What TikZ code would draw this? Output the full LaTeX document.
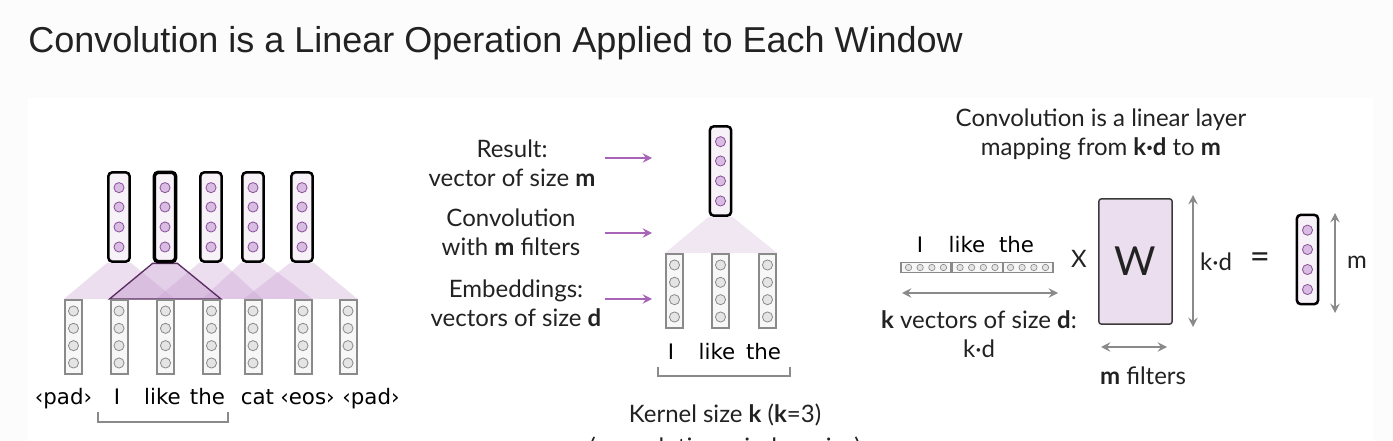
\documentclass[tikz,border=0pt]{standalone}
\usepackage{fontspec}
\setmainfont{Lato}
\newfontfamily\titlefont{Liberation Sans}
\newfontfamily\wordfont{DejaVu Sans}
\usetikzlibrary{arrows.meta,backgrounds}

\definecolor{dotpurple}{HTML}{D8BCE2}
\definecolor{dotedge}{HTML}{8A4F9B}
\definecolor{vecpurple}{HTML}{F7F1F8}
\definecolor{dotgray}{HTML}{E4E4E4}
\definecolor{edgegray}{HTML}{8A8A8A}
\definecolor{vecgray}{HTML}{F7F7F7}
\definecolor{trappurple}{HTML}{C9A0D3}
\definecolor{arrowpurple}{HTML}{A864B8}
\definecolor{wpurple}{HTML}{EBDFEF}
\definecolor{inkblack}{HTML}{222222}

\tikzset{
topvec/.style={draw=black, line width=1.9pt, rounded corners=3pt, fill=vecpurple,
  minimum width=16pt, minimum height=67pt, inner sep=0pt},
botvec/.style={draw=edgegray, line width=1.5pt, fill=vecgray,
  minimum width=12.75pt, minimum height=55.5pt, inner sep=0pt},
pdot/.style={circle, draw=dotedge, line width=0.6pt, fill=dotpurple, minimum size=7.6pt, inner sep=0pt},
gdot/.style={circle, draw=edgegray, line width=0.6pt, fill=dotgray, minimum size=7.6pt, inner sep=0pt},
sdot/.style={circle, draw=edgegray, line width=0.5pt, fill=dotgray, minimum size=4.8pt, inner sep=0pt},
barseg/.style={draw=edgegray, line width=0.8pt, fill=vecgray, minimum width=37.5pt, minimum height=7.5pt, inner sep=0pt},
trap/.style={fill=trappurple, fill opacity=0.35},
word/.style={font=\wordfont\fontsize{16}{19}\selectfont, inner sep=0pt, anchor=base},
label/.style={font=\fontsize{18}{21.75}\selectfont, text=inkblack, align=center, inner sep=0pt},
parrow/.style={draw=arrowpurple, line width=1.5pt, -{Stealth[length=7pt,width=7pt,inset=2.5pt]}},
garrow/.style={draw=edgegray, line width=1.8pt, {Stealth[length=7pt,width=7pt,inset=2.5pt]}-{Stealth[length=7pt,width=7pt,inset=2.5pt]}},
brace/.style={draw=edgegray, line width=1.4pt}
}

\begin{document}
\begin{tikzpicture}[x=0.75pt,y=0.75pt,yscale=-1,xscale=1]
\useasboundingbox (0,0) rectangle (1393,441);

% title
\node[font=\titlefont\fontsize{27}{31}\selectfont, text=inkblack, anchor=base west, inner sep=0pt] (title) at (28,53) {Convolution is a Linear Operation Applied to Each Window};

%% left: convolution over the whole sentence
% embeddings
\node[botvec] (b1) at (73.5,337) {};
\node[botvec] (b2) at (119,337) {};
\node[botvec] (b3) at (165.5,337) {};
\node[botvec] (b4) at (211.5,337) {};
\node[botvec] (b5) at (253,337) {};
\node[botvec] (b6) at (303,337) {};
\node[botvec] (b7) at (348,337) {};
% outputs
\node[topvec] (t1) at (119,217) {};
\node[topvec, line width=2.6pt] (t2) at (165,217) {};
\node[topvec] (t3) at (211,217) {};
\node[topvec] (t4) at (253,217) {};
\node[topvec] (t5) at (302,217) {};

% words
\node[word] (w1) at (63.5,405) {‹pad›};
\node[word] (w2) at (117,405) {I};
\node[word] (w3) at (162.5,405) {like};
\node[word] (w4) at (207.5,405) {the};
\node[word] (w5) at (257.5,405) {cat};
\node[word] (w6) at (307.5,405) {‹eos›};
\node[word] (w7) at (371,405) {‹pad›};
\coordinate (lbr1) at (98,412);
\coordinate (lbr2) at (228,412);
\draw[brace] (lbr1) -- ++(0,10) -| (lbr2);

%% middle: one window
\node[topvec] (m0) at (720.5,171) {};
\node[botvec] (m1) at (674.5,291) {};
\node[botvec] (m2) at (720.5,291) {};
\node[botvec] (m3) at (767.5,291) {};

\node[label] (res) at (512,163.5) {Result:\\vector of size \textbf{m}};
\node[label] (conv) at (511,232.5) {Convolution\\with \textbf{m} filters};
\node[label] (emb) at (516,303) {Embeddings:\\vectors of size \textbf{d}};
\coordinate (a1) at (605,158);
\coordinate (a2) at (605,233);
\coordinate (a3) at (605,299);
\draw[parrow] (a1) -- ++(47,0);
\draw[parrow] (a2) -- ++(47,0);
\draw[parrow] (a3) -- ++(47,0);

\node[word] (mw1) at (671,360) {I};
\node[word] (mw2) at (717,360) {like};
\node[word] (mw3) at (763.5,360) {the};
\coordinate (mbr1) at (658,367);
\coordinate (mbr2) at (790,367);
\draw[brace] (mbr1) -- ++(0,9) -| (mbr2);
\node[label, anchor=north] (kern) at (725,404) {Kernel size \textbf{k} (\textbf{k}=3)\\[3pt](convolution window size)};

%% right: linear layer view
\node[label] (lin) at (1101,134) {Convolution is a linear layer\\mapping from \textbf{k·d} to \textbf{m}};
\node[word] (rw1) at (920,253) {I};
\node[word] (rw2) at (967,253) {like};
\node[word] (rw3) at (1016.5,253) {the};
\node[barseg] (s1) at (926,267.5) {};
\node[barseg] (s2) at (977.5,267.5) {};
\node[barseg] (s3) at (1028,267.5) {};
\coordinate (kl) at (902,293);
\coordinate (kr) at (1058,293);
\draw[garrow] (kl) -- (kr);
\node[label] (kvec) at (979,334) {\textbf{k} vectors of size \textbf{d}:\\k·d};

\node[label] (times) at (1079,259) {X};
\node[draw={rgb,255:red,58;green,58;blue,58}, line width=1.1pt, fill=wpurple, rounded corners=2pt,
  minimum width=55pt, minimum height=94pt, inner sep=0pt,
  font=\fontsize{30}{34}\selectfont, text=inkblack] (W) at (1135.5,261.5) {W};
\coordinate (wt) at (1193,195);
\coordinate (wb) at (1193,327);
\draw[garrow] (wt) -- (wb);
\node[label] (kd) at (1216,262) {k·d};
\node[label, font=\fontsize{26}{28}\selectfont] (eq) at (1260,261) {=};
\node[topvec] (r0) at (1307.5,259.5) {};
\coordinate (rt) at (1335,213);
\coordinate (rb) at (1335,313);
\draw[garrow] (rt) -- (rb);
\node[label] (mm) at (1357,262) {m};
\coordinate (fl) at (1101,347);
\coordinate (fr) at (1167,347);
\draw[garrow] (fl) -- (fr);
\node[label] (filt) at (1143,376) {\textbf{m} filters};

% dots
\foreach \v in {t1,t2,t3,t4,t5,m0,r0}
  \foreach \o [count=\j] in {22.5,7.5,-7.5,-22}
    \node[pdot] (\v d\j) at ([yshift=\o pt]\v.center) {};
\foreach \v in {b1,b2,b3,b4,b5,b6,b7,m1,m2,m3}
  \foreach \o [count=\j] in {19.5,6.5,-6.5,-19.5}
    \node[gdot] (\v d\j) at ([yshift=\o pt]\v.center) {};
\foreach \v in {s1,s2,s3}
  \foreach \o [count=\j] in {-13.1,-4.4,4.4,13.1}
    \node[sdot] (\v d\j) at ([xshift=\o pt]\v.center) {};

\begin{pgfonlayer}{background}
\fill[fill={rgb,255:red,252;green,252;blue,252}] (0,0) rectangle (1393,441);
\fill[white] (28,98) rectangle (1373,441);
\fill[trap] (t1.south west) -- (t1.south east) -- (b3.north east) -- (b1.north west) -- cycle;
\fill[trap] (t3.south west) -- (t3.south east) -- (b5.north east) -- (b3.north west) -- cycle;
\fill[trap] (t4.south west) -- (t4.south east) -- (b6.north east) -- (b4.north west) -- cycle;
\fill[trap] (t5.south west) -- (t5.south east) -- (b7.north east) -- (b5.north west) -- cycle;
\filldraw[trap, fill opacity=0.5, draw={rgb,255:red,90;green,45;blue,98}, line width=1pt] (t2.south west) -- (t2.south east) -- (b4.north east) -- (b2.north west) -- cycle;
\fill[trap, fill opacity=0.25] (m0.south west) -- (m0.south east) -- (m3.north east) -- (m1.north west) -- cycle;
\end{pgfonlayer}

\end{tikzpicture}
\end{document}
